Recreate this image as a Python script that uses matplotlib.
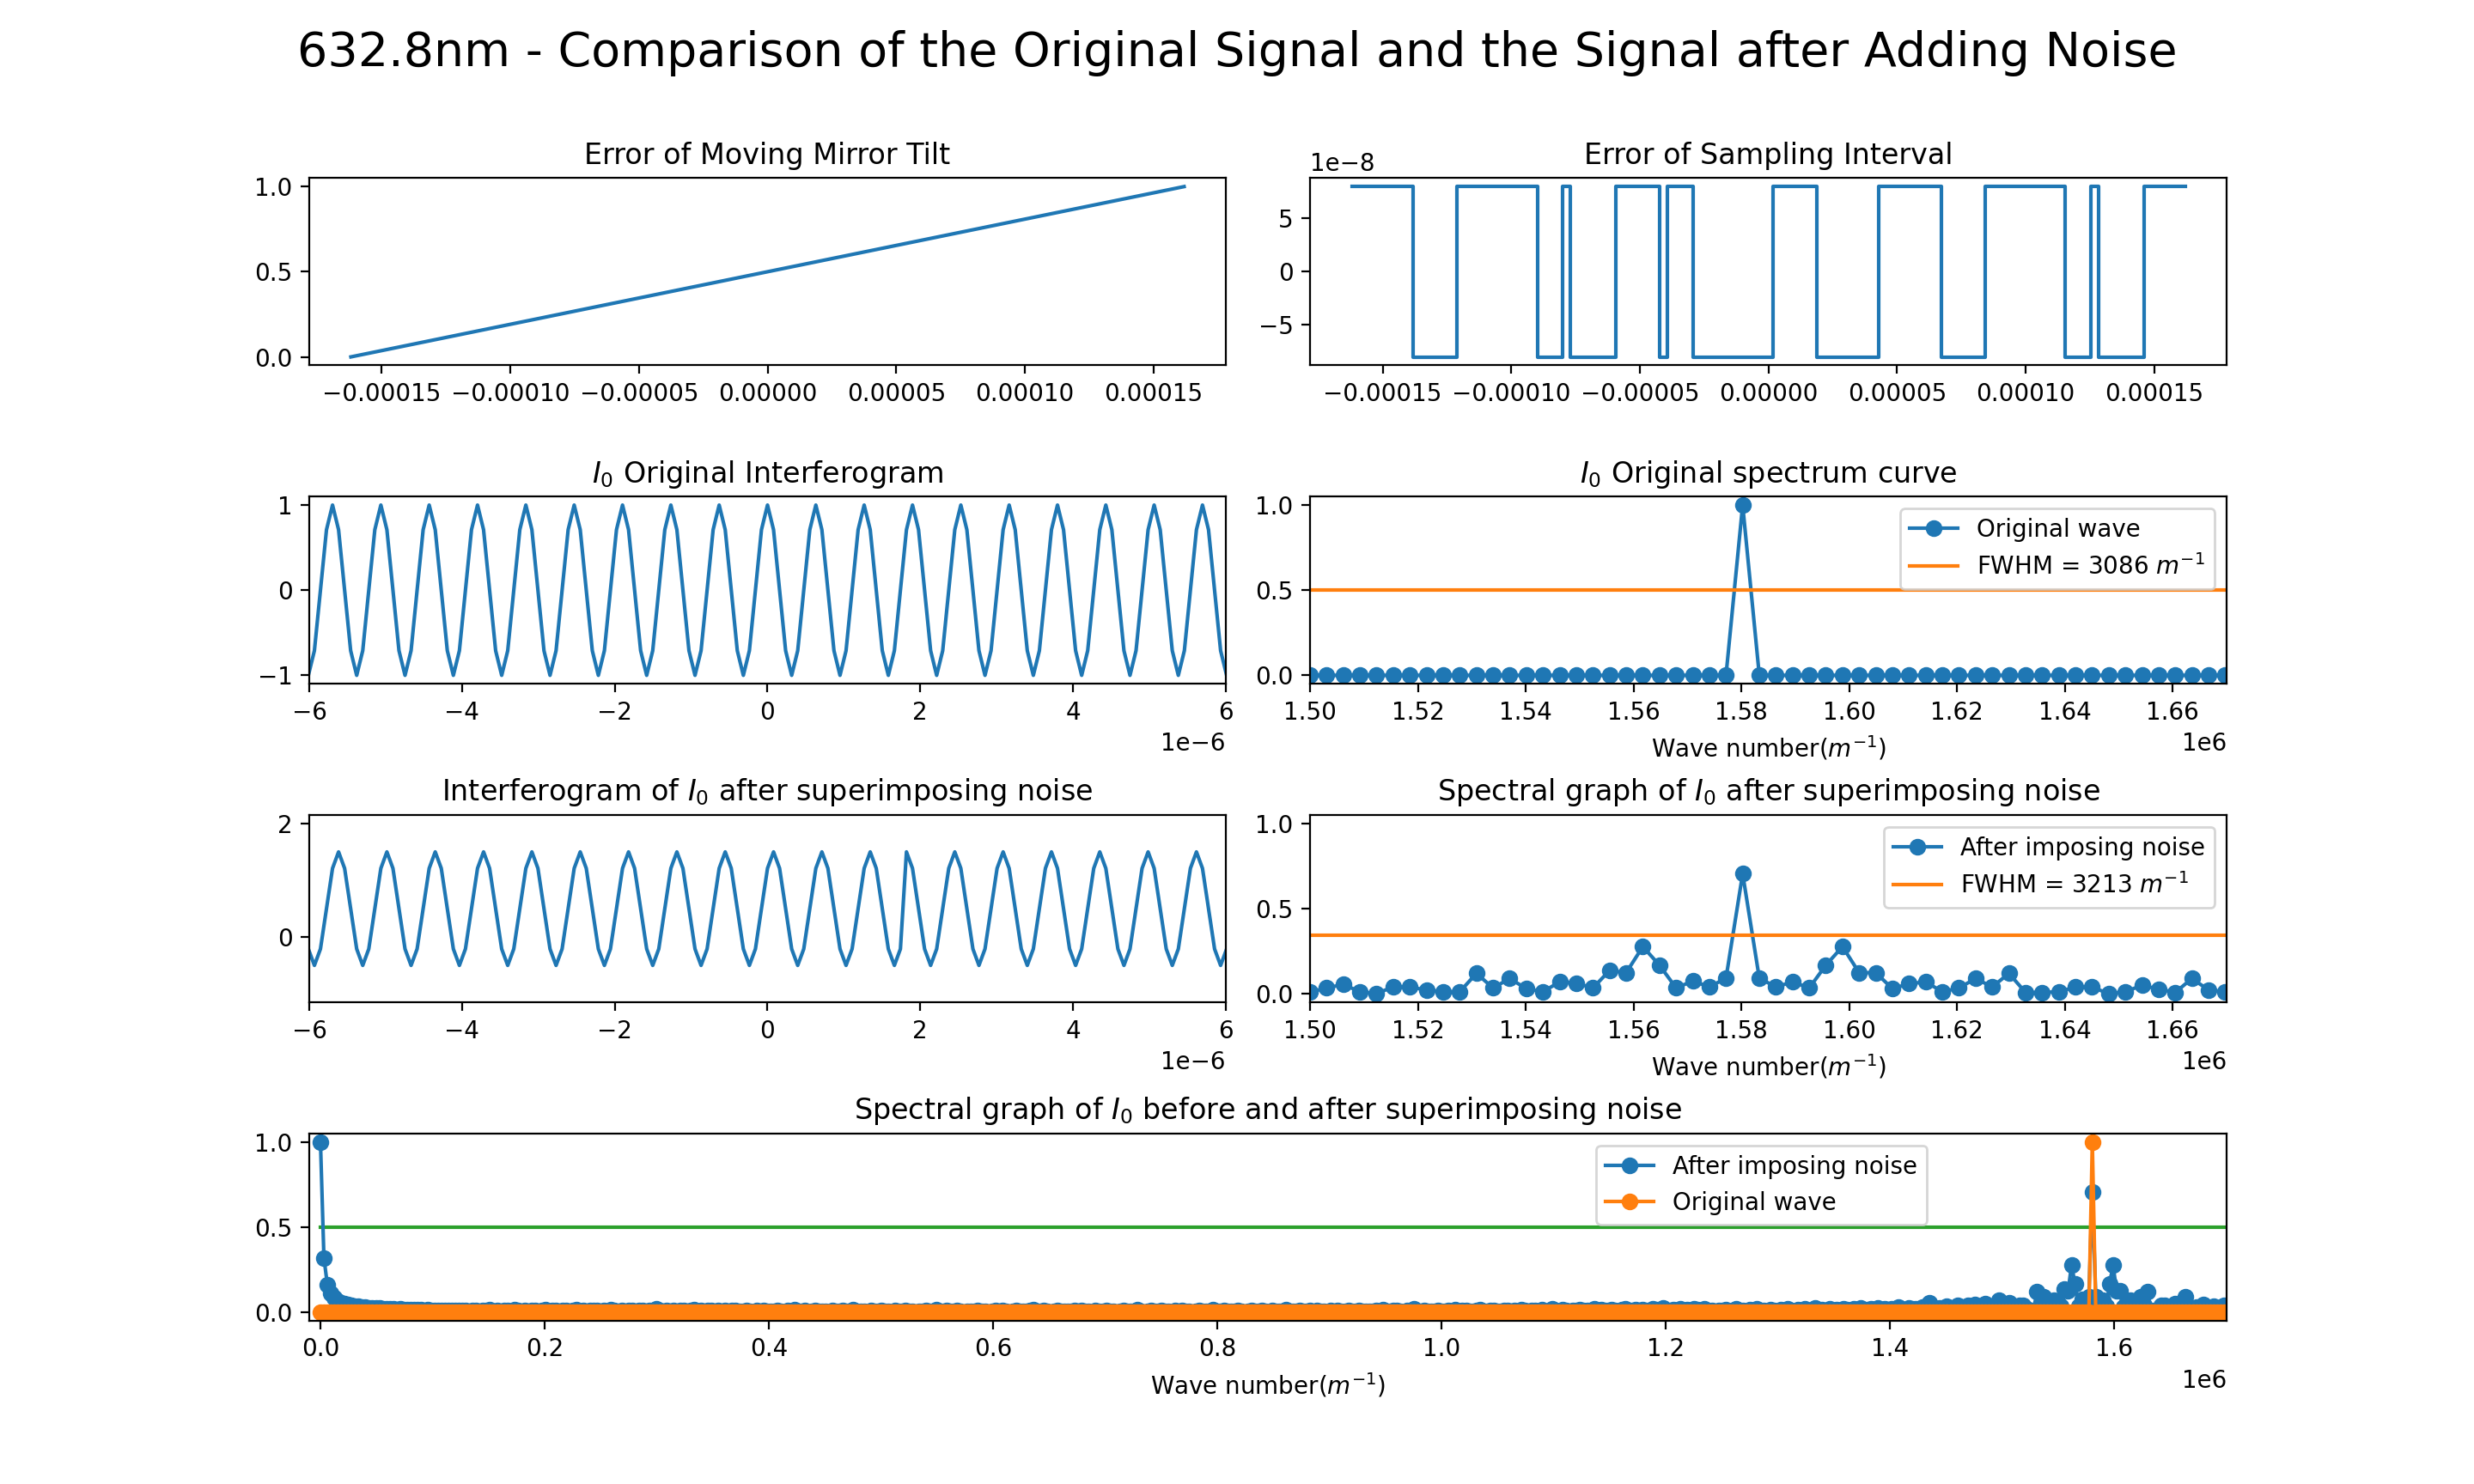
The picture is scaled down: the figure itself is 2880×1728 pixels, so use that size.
#!/usr/bin/env python3
"""
plot.py
632.8 nm interferogram / spectrum comparison: original signal vs. signal after adding noise.
Values are read off the reference figure.
"""

import numpy as np
import matplotlib
matplotlib.use("Agg")
import matplotlib.pyplot as plt

# ------------------------------------------------------------------------------
# SAMPLING GRID (8 samples per 632.8 nm fringe, 4096 samples, 3086 m^-1 bins)
# ------------------------------------------------------------------------------
WAVELENGTH = 632.8e-9
OPD_STEP = WAVELENGTH / 8
WN_STEP = 3086.4

# Error of moving mirror tilt (straight line over the full scan)
tilt_x = [-1.620e-4, 1.619e-4]
tilt_y = [0.0, 1.0]

# Error of sampling interval: square wave, switching points and levels
sampling_edges = [-1.620e-4, -1.382e-4, -1.211e-4, -0.896e-4, -0.801e-4, -0.770e-4,
                  -0.594e-4, -0.422e-4, -0.392e-4, -0.294e-4, 0.018e-4, 0.187e-4,
                  0.430e-4, 0.673e-4, 0.842e-4, 1.154e-4, 1.252e-4, 1.282e-4,
                  1.459e-4, 1.619e-4]
sampling_levels = [8e-8, -8e-8, 8e-8, -8e-8, 8e-8, -8e-8, 8e-8, -8e-8, 8e-8, -8e-8,
                   8e-8, -8e-8, 8e-8, -8e-8, 8e-8, -8e-8, 8e-8, -8e-8, 8e-8]

# Interferogram samples k = -76 .. 76 (window -6e-6 .. 6e-6)
opd_index = np.arange(-76, 77)

orig_interferogram = [
    -1.0, -0.71, 0.0, 0.71,
    1.0, 0.71, 0.0, -0.71, -1.0, -0.71, 0.0, 0.71,
    1.0, 0.71, 0.0, -0.71, -1.0, -0.71, 0.0, 0.71,
    1.0, 0.71, 0.0, -0.71, -1.0, -0.71, 0.0, 0.71,
    1.0, 0.71, 0.0, -0.71, -1.0, -0.71, 0.0, 0.71,
    1.0, 0.71, 0.0, -0.71, -1.0, -0.71, 0.0, 0.71,
    1.0, 0.71, 0.0, -0.71, -1.0, -0.71, 0.0, 0.71,
    1.0, 0.71, 0.0, -0.71, -1.0, -0.71, 0.0, 0.71,
    1.0, 0.71, 0.0, -0.71, -1.0, -0.71, 0.0, 0.71,
    1.0, 0.71, 0.0, -0.71, -1.0, -0.71, 0.0, 0.71,
    1.0, 0.71, 0.0, -0.71, -1.0, -0.71, 0.0, 0.71,
    1.0, 0.71, 0.0, -0.71, -1.0, -0.71, 0.0, 0.71,
    1.0, 0.71, 0.0, -0.71, -1.0, -0.71, 0.0, 0.71,
    1.0, 0.71, 0.0, -0.71, -1.0, -0.71, 0.0, 0.71,
    1.0, 0.71, 0.0, -0.71, -1.0, -0.71, 0.0, 0.71,
    1.0, 0.71, 0.0, -0.71, -1.0, -0.71, 0.0, 0.71,
    1.0, 0.71, 0.0, -0.71, -1.0, -0.71, 0.0, 0.71,
    1.0, 0.71, 0.0, -0.71, -1.0, -0.71, 0.0, 0.71,
    1.0, 0.71, 0.0, -0.71, -1.0, -0.71, 0.0, 0.71,
    1.0, 0.71, 0.0, -0.71, -1.0,
]

# noisy interferogram: offset +0.5, shifted one sample right before x~1.8e-6, left after
noisy_interferogram = [
    -0.21, -0.5, -0.21, 0.5, 1.21,
    1.5, 1.21, 0.5, -0.21, -0.5, -0.21, 0.5, 1.21,
    1.5, 1.21, 0.5, -0.21, -0.5, -0.21, 0.5, 1.21,
    1.5, 1.21, 0.5, -0.21, -0.5, -0.21, 0.5, 1.21,
    1.5, 1.21, 0.5, -0.21, -0.5, -0.21, 0.5, 1.21,
    1.5, 1.21, 0.5, -0.21, -0.5, -0.21, 0.5, 1.21,
    1.5, 1.21, 0.5, -0.21, -0.5, -0.21, 0.5, 1.21,
    1.5, 1.21, 0.5, -0.21, -0.5, -0.21, 0.5, 1.21,
    1.5, 1.21, 0.5, -0.21, -0.5, -0.21, 0.5, 1.21,
    1.5, 1.21, 0.5, -0.21, -0.5, -0.21, 0.5, 1.21,
    1.5, 1.21, 0.5, -0.21, -0.5, -0.21, 0.5, 1.21,
    1.5, 1.21, 0.5, -0.21, -0.5, -0.21, 0.5, 1.21,
    1.5, 1.21, 0.5, -0.21, -0.5, -0.21,
    1.5, 1.21, 0.5, -0.21, -0.5, -0.21, 0.5, 1.21,
    1.5, 1.21, 0.5, -0.21, -0.5, -0.21, 0.5, 1.21,
    1.5, 1.21, 0.5, -0.21, -0.5, -0.21, 0.5, 1.21,
    1.5, 1.21, 0.5, -0.21, -0.5, -0.21, 0.5, 1.21,
    1.5, 1.21, 0.5, -0.21, -0.5, -0.21, 0.5, 1.21,
    1.5, 1.21, 0.5, -0.21, -0.5, -0.21, 0.5, 1.21,
    1.5, 1.21, 0.5, -0.21, -0.5, -0.21,
]

# ------------------------------------------------------------------------------
# SPECTRA, bins 0 .. 551 (0 .. 1.70e6 m^-1)
# ------------------------------------------------------------------------------
PEAK_BIN = 512                      # 1.58e6 m^-1

# noisy spectrum, bins 0-20: DC decay
noisy_low = [1.0, 0.32, 0.16, 0.11, 0.085, 0.068, 0.057, 0.05, 0.045, 0.04, 0.036,
             0.033, 0.031, 0.029, 0.027, 0.025, 0.024, 0.023, 0.022, 0.021, 0.02]

# noisy spectrum, bins 21-485: noise floor in thousandths
noisy_floor_milli = [
    19, 17, 18, 16, 15, 16, 14, 13, 14, 12, 13, 11, 12, 10, 12, 11, 9, 11, 10, 9,
    8, 11, 7, 9, 12, 6, 10, 8, 14, 7,
    9, 5, 11, 8, 6, 13, 9, 7, 10, 5,
    8, 12, 6, 9, 16, 7, 8, 10, 5, 9,
    11, 6, 8, 13, 7, 9, 4, 10, 8, 12,
    6, 9, 7, 15, 8, 5, 10, 7, 9, 11,
    5, 8, 12, 6, 9, 7, 18, 8, 6, 10,
    7, 9, 5, 11, 8, 6, 10, 13, 7, 9,
    4, 8, 10, 6, 12, 7, 9, 5, 8, 11,
    6, 3, 9, 5, 2, 8, 4, 11, 6, 3,
    7, 10, 4, 2, 8, 5, 13, 3, 6, 9,
    2, 5, 8, 3, 7, 4, 1, 9, 5, 6,
    9, 4, 6, 15, 3, 7, 5, 2, 8, 4,
    3, 8, 5, 7, 2, 10, 6, 4, 12, 5,
    5, 2, 7, 4, 9, 3, 6, 17, 4, 7,
    8, 6, 3, 10, 5, 2, 7, 4, 6, 9,
    4, 7, 2, 6, 11, 3, 8, 5, 1, 7,
    10, 3, 6, 4, 8, 14, 2, 6, 9, 4,
    2, 6, 9, 3, 5, 7, 4, 10, 3, 8,
    7, 4, 1, 8, 6, 3, 12, 5, 7, 2,
    5, 9, 3, 6, 4, 16, 7, 2, 5, 8,
    3, 7, 10, 4, 6, 2, 8, 5, 11, 4,
    6, 2, 5, 9, 3, 7, 4, 13, 6, 3,
    8, 5, 3, 7, 10, 4, 2, 6, 9, 5,
    4, 11, 6, 2, 8, 5, 7, 3, 15, 6,
    7, 3, 9, 5, 4, 8, 2, 10, 6, 4,
    2, 8, 5, 12, 3, 6, 9, 4, 7, 11,
    6, 4, 7, 3, 9, 5, 14, 6, 3, 8,
    9, 5, 2, 8, 6, 18, 4, 7, 10, 5,
    3, 7, 11, 4, 6, 9, 5, 13, 4, 8,
    10, 6, 4, 9, 15, 7, 3, 8, 12, 6,
    5, 12, 8, 6, 10, 4, 16, 9, 7, 11,
    8, 4, 13, 7, 5, 19, 10, 6, 14, 9,
    6, 11, 9, 15, 8, 12, 7, 20, 10, 13,
    12, 8, 16, 10, 6, 14, 22, 9, 11, 17,
    9, 15, 11, 7, 18, 13, 10, 24, 12, 8,
    14, 10, 19, 12, 16, 9, 21, 13, 11, 18,
    6, 10, 4, 12, 8, 15, 5, 9, 18, 7,
    11, 6, 14, 9, 20, 8, 12, 5, 16, 10,
    7, 13, 9, 22, 11, 6, 15, 10, 18, 8,
    12, 25, 9, 14, 7, 19, 11, 16, 10, 21,
    14, 9, 18, 12, 24, 10, 16, 20, 13, 27,
    11, 19, 15, 22, 12, 30, 17, 14, 25, 18,
    21, 16, 28, 35, 55, 30, 18, 24, 20, 33,
    26, 22, 38, 29, 24, 41, 36, 45, 32, 28,
    50, 30, 26, 40, 70,
]

# noisy spectrum, bins 486-541 (1.50e6 .. 1.67e6, the zoomed panel)
noisy_window = [0.01, 0.034, 0.055, 0.012, 0.0, 0.042, 0.04, 0.022, 0.012, 0.012,
                0.12, 0.034, 0.09, 0.03, 0.012, 0.07, 0.062, 0.034, 0.137, 0.124,
                0.277, 0.168, 0.034, 0.075, 0.04, 0.092, 0.705, 0.092, 0.04, 0.07,
                0.034, 0.168, 0.277, 0.124, 0.124, 0.03, 0.059, 0.07, 0.012, 0.034,
                0.09, 0.04, 0.12, 0.008, 0.008, 0.012, 0.04, 0.04, 0.0, 0.012,
                0.05, 0.027, 0.008, 0.09, 0.022, 0.012]

# noisy spectrum, bins 542-551 in thousandths
noisy_tail_milli = [30, 15, 45, 20, 10, 35, 25, 12, 40, 20]

noisy_spectrum = np.array(noisy_low
                          + [v / 1000 for v in noisy_floor_milli]
                          + noisy_window
                          + [v / 1000 for v in noisy_tail_milli])
orig_spectrum = np.zeros(len(noisy_spectrum))
orig_spectrum[PEAK_BIN] = 1.0

FWHM_ORIG = 3086
FWHM_NOISY = 3213
HALF_ORIG = 0.5
HALF_NOISY = 0.343

WN_LABEL = r'Wave number($m^{-1}$)'


def main():
    opd = opd_index * OPD_STEP
    wave_number = np.arange(len(noisy_spectrum)) * WN_STEP

    fig = plt.figure(figsize=(14.4, 8.64), dpi=200)
    gs = fig.add_gridspec(4, 2, left=0.125, right=0.9, bottom=0.11, top=0.88,
                          hspace=0.7, wspace=0.092)
    fig.suptitle('632.8nm - Comparison of the Original Signal and the Signal after Adding Noise',
                 fontsize=20)

    # row 1 -------------------------------------------------------------------
    ax = fig.add_subplot(gs[0, 0])
    ax.plot(tilt_x, tilt_y, color='C0')
    ax.set_yticks([0.0, 0.5, 1.0])
    ax.set_title('Error of Moving Mirror Tilt')

    ax = fig.add_subplot(gs[0, 1])
    ax.plot(sampling_edges, sampling_levels + [sampling_levels[-1]],
            drawstyle='steps-post', color='C0')
    ax.set_yticks([-5e-8, 0, 5e-8])
    ax.set_title('Error of Sampling Interval')

    # row 2 -------------------------------------------------------------------
    ax = fig.add_subplot(gs[1, 0])
    ax.plot(opd, orig_interferogram, color='C0')
    ax.set_xlim(-6e-6, 6e-6)
    ax.set_ylim(-1.1, 1.1)
    ax.set_yticks([-1, 0, 1])
    ax.set_title(r'$I_0$ Original Interferogram')

    ax = fig.add_subplot(gs[1, 1])
    ax.plot(wave_number, orig_spectrum, marker='o', color='C0', label='Original wave')
    ax.axhline(HALF_ORIG, color='C1', label=f'FWHM = {FWHM_ORIG} $m^{{-1}}$')
    ax.set_xlim(1.5e6, 1.67e6)
    ax.set_ylim(-0.05, 1.05)
    ax.set_xticks(np.arange(1.50e6, 1.665e6, 0.02e6))
    ax.set_yticks([0.0, 0.5, 1.0])
    ax.set_xlabel(WN_LABEL)
    ax.set_title(r'$I_0$ Original spectrum curve')
    ax.legend(loc='upper right')

    # row 3 -------------------------------------------------------------------
    ax = fig.add_subplot(gs[2, 0])
    ax.plot(opd, noisy_interferogram, color='C0')
    ax.set_xlim(-6e-6, 6e-6)
    ax.set_ylim(-1.15, 2.15)
    ax.set_yticks([0, 2])
    ax.set_title(r'Interferogram of $I_0$ after superimposing noise')

    ax = fig.add_subplot(gs[2, 1])
    ax.plot(wave_number, noisy_spectrum, marker='o', color='C0', label='After imposing noise')
    ax.axhline(HALF_NOISY, color='C1', label=f'FWHM = {FWHM_NOISY} $m^{{-1}}$')
    ax.set_xlim(1.5e6, 1.67e6)
    ax.set_ylim(-0.05, 1.05)
    ax.set_xticks(np.arange(1.50e6, 1.665e6, 0.02e6))
    ax.set_yticks([0.0, 0.5, 1.0])
    ax.set_xlabel(WN_LABEL)
    ax.set_title(r'Spectral graph of $I_0$ after superimposing noise')
    ax.legend(loc='upper right')

    # row 4 -------------------------------------------------------------------
    ax = fig.add_subplot(gs[3, :])
    ax.plot([wave_number[0], wave_number[-1]], [HALF_ORIG, HALF_ORIG], color='C2')
    ax.plot(wave_number, noisy_spectrum, marker='o', color='C0', label='After imposing noise')
    ax.plot(wave_number, orig_spectrum, marker='o', color='C1', label='Original wave')
    ax.set_xlim(-1e4, 1.7e6)
    ax.set_ylim(-0.05, 1.05)
    ax.set_yticks([0.0, 0.5, 1.0])
    ax.set_xlabel(WN_LABEL)
    ax.set_title(r'Spectral graph of $I_0$ before and after superimposing noise')
    ax.legend(loc='upper right', bbox_to_anchor=(0.85, 1.0))

    fig.savefig('out.png', dpi=200)
    plt.close(fig)


if __name__ == '__main__':
    main()
